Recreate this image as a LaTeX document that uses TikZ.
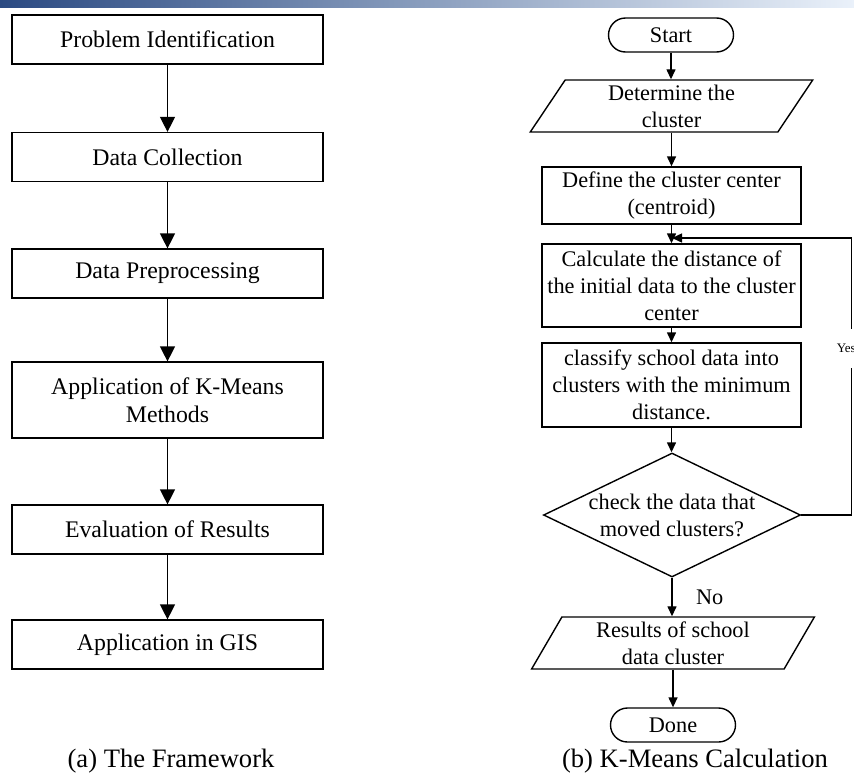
\documentclass[tikz,border=0pt]{standalone}
\usepackage{fontspec}
\setmainfont{Liberation Serif}
\usepackage[HTML]{xcolor}
\usepackage{tikz}
\usetikzlibrary{positioning, arrows.meta, shapes.geometric}

\definecolor{bardark}{HTML}{2B4A82}
\definecolor{barlight}{HTML}{EAF1FA}

\begin{document}
\begin{tikzpicture}[x=1pt, y=-1pt,
    stage/.style={draw, line width=1.2pt, minimum width=311pt, minimum height=49pt,
        inner sep=0pt, align=center, font=\fontsize{23.8}{28}\selectfont},
    bigarrow/.style={-{Triangle[width=15pt, length=15pt]}, line width=1.2pt},
    txt/.style={font=\fontsize{22.3}{27}\selectfont, align=center},
    procbox/.style={txt, draw, line width=1.4pt, minimum width=259pt, inner sep=0pt},
    terminal/.style={txt, draw, line width=1.4pt, rounded corners=17pt,
        minimum width=125pt, minimum height=34pt, inner sep=0pt},
    iobox/.style={txt, draw, line width=1.4pt, trapezium, trapezium left angle=64,
        trapezium right angle=116, trapezium stretches=true,
        minimum width=283pt, minimum height=52pt, inner sep=0pt},
    decision/.style={txt, draw, line width=1.4pt, diamond, aspect=2.07,
        minimum width=257pt, minimum height=124pt, inner sep=0pt},
    flow/.style={-{Triangle[width=9pt, length=10pt]}, line width=1.4pt},
    yeslabel/.style={font=\fontsize{13}{15}\selectfont, fill=white,
        inner xsep=1pt, inner ysep=15pt, xshift=-5pt},
    caption/.style={font=\fontsize{26.6}{30}\selectfont}]

\useasboundingbox (0,0) rectangle (854,774);

% Title bar
\shade[left color=bardark, right color=barlight] (0,0) rectangle (854,7);

% (a) Framework
\node[stage] (prob) at (167.5,39.5) {Problem Identification};
\node[stage] (coll) at (167.5,157) {Data Collection};
\node[stage] (prep) at (167.5,273.5) {Data Preprocessing};
\node[stage, minimum height=76pt] (kmeans) at (167.5,400) {Application of K-Means\\Methods};
\node[stage] (eval) at (167.5,529.5) {Evaluation of Results};
\node[stage] (gis) at (167.5,644.5) {Application in GIS};

\foreach \a/\b in {prob/coll, coll/prep, prep/kmeans, kmeans/eval, eval/gis}
    \draw[bigarrow] (\a) -- (\b);

\node[caption] (capa) at (171,761) {(a) The Framework};

% (b) K-Means flowchart
\node[terminal] (start) at (671,35) {Start};
\node[iobox] (det) at (671.5,106) {Determine the\\cluster};
\node[procbox, minimum height=57pt] (cent) at (671.5,195.5) {Define the cluster center\\(centroid)};
\node[procbox, minimum height=83pt] (calc) at (671.5,285.5) {Calculate the distance of\\the initial data to the cluster\\center};
\node[procbox, minimum height=84pt] (clas) at (671.5,385) {classify school data into\\clusters with the minimum\\distance.};
\node[decision] (check) at (672,515) {check the data that\\moved clusters?};
\node[iobox] (res) at (673,643) {Results of school\\data cluster};
\node[terminal] (done) at (673,725) {Done};

\foreach \a/\b in {start/det, det/cent, cent/calc, calc/clas, clas/check, res/done}
    \draw[flow] (\a.south) -- (\a.south |- \b.north);

\draw[flow] (check.south) -- node[txt, right, xshift=20pt] {No} (check.south |- res.north);

% loop back
\coordinate (back) at (672,238);
\draw[flow] (check.east) -- ++(50,0) |- node[pos=0.3, yeslabel] {Yes} (back);

\node[caption] (capb) at (695,761) {(b) K-Means Calculation};

\end{tikzpicture}
\end{document}
